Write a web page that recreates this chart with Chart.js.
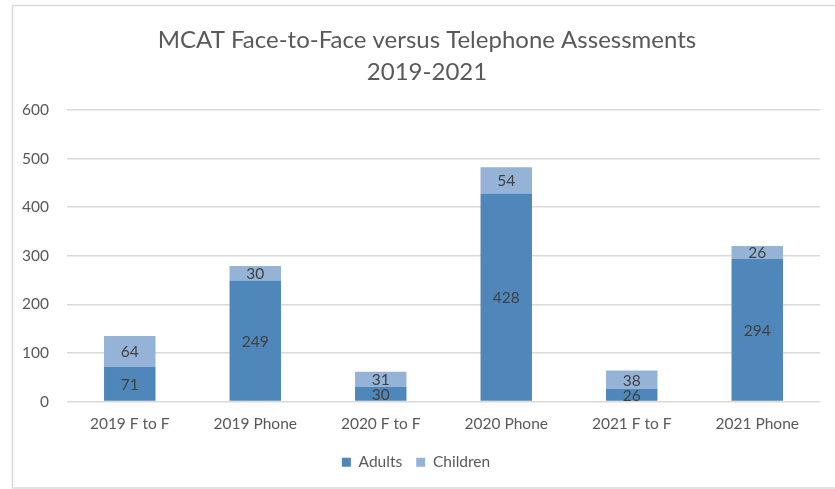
<!DOCTYPE html>
<html>
<head>
<meta charset="utf-8">
<script src="https://cdn.jsdelivr.net/npm/chart.js@4"></script>
<style>
  html, body { margin: 0; padding: 0; background: #fff; }
  #wrap { width: 835px; height: 489px; position: relative; }
</style>
</head>
<body>
<div id="wrap"><canvas id="chart" width="835" height="489"></canvas></div>
<script>
// chart data
const categories = ["2019 F to F", "2019 Phone", "2020 F to F", "2020 Phone", "2021 F to F", "2021 Phone"];
const adults = [71, 249, 30, 428, 26, 294];
const children = [64, 30, 31, 54, 38, 26];
const titleLines = ["MCAT Face-to-Face versus Telephone Assessments", "2019-2021"];

const FONT = "Lato, 'Liberation Sans', sans-serif";
const TEXT = "#595959";

// frame, title and value labels
const extras = {
  id: "extras",
  beforeDraw(chart) {
    const c = chart.ctx;
    c.save();
    c.fillStyle = "#fff";
    c.fillRect(0, 0, chart.width, chart.height);
    c.strokeStyle = "#d9d9d9";
    c.lineWidth = 1.5;
    c.beginPath();
    c.moveTo(835, 5.5);
    c.lineTo(12.5, 5.5);
    c.lineTo(12.5, 488);
    c.lineTo(835, 488);
    c.stroke();
    c.restore();
  },
  afterDraw(chart) {
    const c = chart.ctx;
    c.save();
    c.fillStyle = TEXT;
    c.textAlign = "center";
    c.textBaseline = "middle";
    c.font = "24px " + FONT;
    c.fillText(titleLines[0], 427, 40);
    c.fillText(titleLines[1], 427, 72);

    c.font = "15.5px " + FONT;
    c.fillStyle = "#404040";
    chart.data.datasets.forEach((ds, i) => {
      chart.getDatasetMeta(i).data.forEach((bar, j) => {
        const mid = (bar.y + bar.base) / 2;
        c.fillText(String(ds.data[j]), bar.x, mid + 1);
      });
    });
    c.restore();
  }
};

new Chart(document.getElementById("chart"), {
  type: "bar",
  data: {
    labels: categories,
    datasets: [
      { label: "Adults", data: adults, backgroundColor: "#4f87ba", barPercentage: 0.41, categoryPercentage: 1 },
      { label: "Children", data: children, backgroundColor: "#95b3d7", barPercentage: 0.41, categoryPercentage: 1 }
    ]
  },
  options: {
    responsive: false,
    animation: false,
    layout: { padding: { left: 12, right: 15, top: 110, bottom: 9 } },
    scales: {
      x: {
        stacked: true,
        grid: { display: false },
        border: { display: false },
        ticks: { color: TEXT, font: { family: FONT, size: 15.5 }, padding: 5 },
        afterFit(s) { s.height = 39; }
      },
      y: {
        stacked: true,
        min: 0,
        max: 600,
        ticks: { stepSize: 100, color: TEXT, font: { family: FONT, size: 15.5 }, padding: 18 },
        grid: { color: "#d9d9d9", lineWidth: 1.5, drawTicks: false },
        border: { display: false },
        afterFit(s) { s.width = 55; }
      }
    },
    plugins: {
      legend: {
        position: "bottom",
        labels: { color: TEXT, font: { family: FONT, size: 15.5 }, boxWidth: 9, boxHeight: 9, padding: 14 }
      },
      tooltip: { enabled: false }
    }
  },
  plugins: [extras]
});
</script>
</body>
</html>
